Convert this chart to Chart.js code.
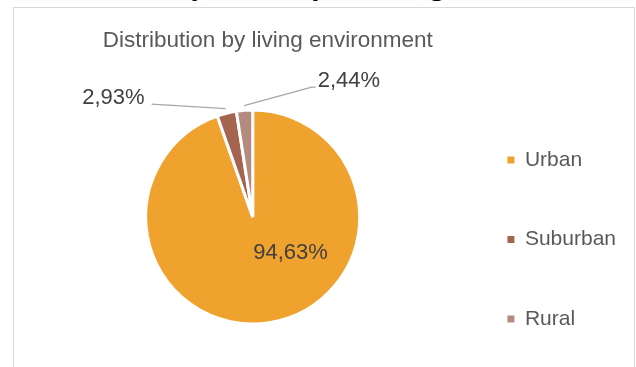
<!DOCTYPE html>
<html>
<head>
<meta charset="utf-8">
<script src="https://cdn.jsdelivr.net/npm/chart.js@4.4.1/dist/chart.umd.min.js"></script>
<style>
  html, body { margin: 0; padding: 0; background: #fff; width: 636px; height: 367px; overflow: hidden; }
  #above { position: absolute; right: 171px; top: -30px; font: 30px "Liberation Serif", "Times New Roman", serif;
           line-height: 30px; white-space: nowrap; color: #000; }
  #frame { position: absolute; left: 13px; top: 7px; width: 620px; height: 400px; border: 1px solid #d9d9d9; }
  #frame canvas { position: absolute; left: 0; top: 0; }
</style>
</head>
<body>
<div id="above">educational and marital status by over 65 years of age.</div>
<div id="frame"><canvas id="pie" width="620" height="384"></canvas></div>
<script>
// data
const categories = ['Urban', 'Suburban', 'Rural'];
const shares = [94.63, 2.93, 2.44];
const sliceColors = ['#F0A22E', '#A5644E', '#B58B80'];
const chartTitle = 'Distribution by living environment';

const FONT = '"Liberation Sans", Arial, sans-serif';

// how each percentage label sits next to its slice
// inside: polar position from centre; outside: leader line from the rim
const labelLayout = [
  { inside: true, angle: 43.5, dist: 0.48 },
  { inside: false, dx: -74, dy: -4.5, tail: 0, side: 'left' },
  { inside: false, dx: 67.5, dy: -18.5, tail: 4, side: 'right' }
];

function pct(v) {
  return v.toFixed(2).replace('.', ',') + '%';
}

const sliceLabels = {
  id: 'sliceLabels',
  // title sits a bit right of the pie centre in the original
  afterLayout(chart) {
    const t = chart.titleBlock;
    if (t) { t.left += 15; t.right += 15; }
  },
  afterDatasetsDraw(chart) {
    const ctx = chart.ctx;
    const arcs = chart.getDatasetMeta(0).data;
    ctx.save();
    ctx.font = '22px ' + FONT;
    ctx.fillStyle = '#404040';
    ctx.textBaseline = 'middle';
    arcs.forEach((arc, i) => {
      const p = arc.getProps(['x', 'y', 'startAngle', 'endAngle', 'outerRadius'], true);
      const r = p.outerRadius + 1.5;
      const lay = labelLayout[i];
      const text = pct(shares[i]);
      if (lay.inside) {
        const a = lay.angle * Math.PI / 180;
        ctx.textAlign = 'center';
        ctx.fillText(text, p.x + Math.cos(a) * r * lay.dist, p.y + Math.sin(a) * r * lay.dist);
        return;
      }
      const mid = (p.startAngle + p.endAngle) / 2;
      const sx = p.x + Math.cos(mid) * r * 1.03;
      const sy = p.y + Math.sin(mid) * r * 1.03;
      const ex = sx + lay.dx, ey = sy + lay.dy;
      const tx = ex + (lay.side === 'left' ? -lay.tail : lay.tail);
      ctx.strokeStyle = '#a6a6a6';
      ctx.lineWidth = 1.2;
      ctx.beginPath();
      ctx.moveTo(sx, sy);
      ctx.lineTo(ex, ey);
      ctx.lineTo(tx, ey);
      ctx.stroke();
      if (lay.side === 'left') {
        ctx.textAlign = 'right';
        ctx.fillText(text, tx - 7, ey - 6);
      } else {
        ctx.textAlign = 'left';
        ctx.fillText(text, tx + 2, ey - 6);
      }
    });
    ctx.restore();
  }
};

new Chart(document.getElementById('pie'), {
  type: 'pie',
  data: {
    labels: categories,
    datasets: [{
      data: shares,
      backgroundColor: sliceColors,
      borderColor: '#ffffff',
      borderWidth: 3,
      radius: 107
    }]
  },
  options: {
    responsive: false,
    devicePixelRatio: 1,
    animation: false,
    events: [],
    layout: { padding: { top: 0, bottom: 2, left: 42.5, right: 8 } },
    plugins: {
      tooltip: { enabled: false },
      title: {
        display: true,
        text: chartTitle,
        color: '#595959',
        fullSize: false,
        font: { family: FONT, size: 22.5, weight: 'normal', lineHeight: 1.2 },
        padding: { top: 19.5, bottom: -10.5 }
      },
      legend: {
        display: true,
        position: 'right',
        align: 'center',
        fullSize: false,
        title: { display: true, text: '', font: { size: 10, lineHeight: 1.2 }, padding: { top: 0, bottom: 33 } },
        labels: {
          boxWidth: 7,
          boxHeight: 7,
          padding: 58.5,
          color: '#595959',
          font: { family: FONT, size: 21 },
          generateLabels(chart) {
            const items = Chart.overrides.doughnut.plugins.legend.labels.generateLabels(chart);
            items.forEach(it => { it.lineWidth = 0; });
            return items;
          }
        }
      }
    }
  },
  plugins: [sliceLabels]
});
</script>
</body>
</html>
